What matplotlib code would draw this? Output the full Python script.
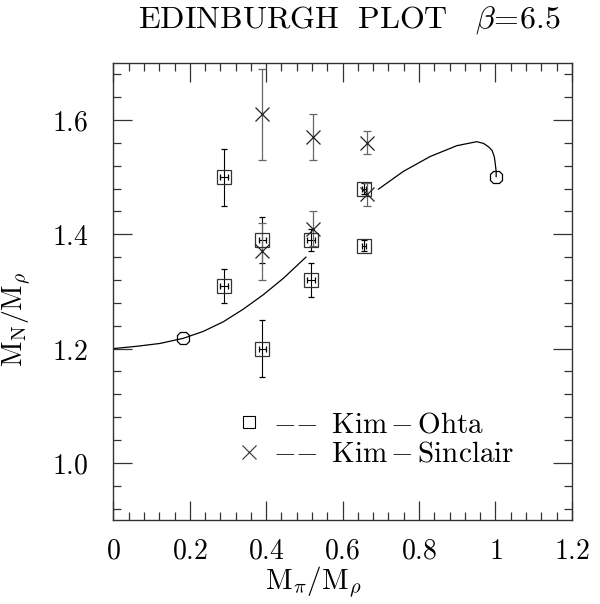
import matplotlib
matplotlib.use("Agg")
import matplotlib.pyplot as plt
from matplotlib.lines import Line2D
from matplotlib.ticker import MultipleLocator, FixedLocator, FixedFormatter

plt.rcParams['mathtext.fontset'] = 'cm'

# Kim-Ohta nucleon/rho ratios
ohta_x = [0.29, 0.29, 0.39, 0.39, 0.517, 0.517, 0.656, 0.656]
ohta_xerr = [0.01, 0.01, 0.01, 0.01, 0.01, 0.01, 0.006, 0.006]
ohta_y = [1.50, 1.31, 1.39, 1.20, 1.39, 1.32, 1.48, 1.38]
ohta_yerr = [0.05, 0.03, 0.04, 0.05, 0.02, 0.03, 0.01, 0.01]

# Kim-Sinclair nucleon/rho ratios
sinc_x = [0.388, 0.388, 0.522, 0.522, 0.663, 0.663]
sinc_y = [1.61, 1.37, 1.57, 1.41, 1.56, 1.47]
sinc_yerr = [0.08, 0.05, 0.04, 0.03, 0.02, 0.02]

# phenomenological curve, light and heavy branches
curve_lo_x = [0.0, 0.061, 0.122, 0.183, 0.235, 0.288, 0.340, 0.392, 0.445, 0.504]
curve_lo_y = [1.200, 1.204, 1.209, 1.218, 1.230, 1.247, 1.269, 1.294, 1.323, 1.360]
curve_hi_x = [0.694, 0.759, 0.829, 0.899, 0.951, 0.969, 0.982, 0.991, 0.997,
              0.999, 1.002, 1.002]
curve_hi_y = [1.479, 1.510, 1.536, 1.555, 1.562, 1.559, 1.553, 1.547, 1.536,
              1.527, 1.510, 1.501]

# physical point and heavy quark limit
ref_x = [0.183, 1.002]
ref_y = [1.218, 1.501]

xticks = [0, 0.2, 0.4, 0.6, 0.8, 1.0, 1.2]
xticklabels = ['0', '0.2', '0.4', '0.6', '0.8', '1', '1.2']
yticks = [1.0, 1.2, 1.4, 1.6]
yticklabels = ['1.0', '1.2', '1.4', '1.6']

fig = plt.figure(figsize=(6.0, 6.04), dpi=100)
ax = fig.add_axes([0.189, 0.139, 0.764, 0.757])

ax.plot(curve_lo_x, curve_lo_y, color='black', lw=0.9)
ax.plot(curve_hi_x, curve_hi_y, color='black', lw=0.9)
ax.plot(ref_x, ref_y, linestyle='none', marker='8', ms=10, mfc='none',
        mec='black', mew=0.9, zorder=4)

ax.errorbar(ohta_x, ohta_y, yerr=ohta_yerr, xerr=ohta_xerr, fmt='s', ms=9.5,
            mfc='none', mec='#333333', mew=0.9, ecolor='black', elinewidth=0.8,
            capsize=2.2, capthick=0.8)
ax.errorbar(sinc_x, sinc_y, yerr=sinc_yerr, fmt='x', ms=10, color='#222222',
            mew=0.9, ecolor='#666666', elinewidth=0.9, capsize=3, capthick=0.9)

ax.set_xlim(0, 1.2)
ax.set_ylim(0.9, 1.7)
ax.xaxis.set_major_locator(FixedLocator(xticks))
ax.xaxis.set_major_formatter(FixedFormatter(['$%s$' % s for s in xticklabels]))
ax.yaxis.set_major_locator(FixedLocator(yticks))
ax.yaxis.set_major_formatter(FixedFormatter(['$%s$' % s for s in yticklabels]))
ax.xaxis.set_minor_locator(MultipleLocator(0.04))
ax.yaxis.set_minor_locator(MultipleLocator(0.04))

ax.tick_params(which='both', direction='in', top=True, right=True,
               color='#333333', width=0.9)
ax.tick_params(which='major', length=14)
ax.tick_params(which='minor', length=5.5)
ax.tick_params(axis='x', which='major', pad=12, labelsize=20)
ax.tick_params(axis='y', which='major', pad=18, labelsize=20)
for sp in ax.spines.values():
    sp.set_linewidth(1.0)
    sp.set_color('#333333')

ax.set_xlabel(r'$\mathrm{M}_\pi/\mathrm{M}_\rho$', fontsize=21)
ax.set_ylabel(r'$\mathrm{M}_\mathrm{N}/\mathrm{M}_\rho$', fontsize=20)
ax.xaxis.set_label_coords(0.435, -0.098)
ax.yaxis.set_label_coords(-0.175, 0.44)

handles = [
    Line2D([], [], linestyle='none', marker='s', ms=9, mfc='none',
           mec='black', mew=0.8),
    Line2D([], [], linestyle='none', marker='x', ms=10, color='#333333',
           mew=0.8),
]
labels = [r'$-\!\!\!\;-\ \mathrm{Kim}\,{-}\,\mathrm{Ohta}$',
          r'$-\!\!\!\;-\ \mathrm{Kim}\,{-}\,\mathrm{Sinclair}$']
ax.legend(handles, labels, loc='upper left', bbox_to_anchor=(0.24, 0.272),
          frameon=False, fontsize=21, handlelength=0.75, handletextpad=0.45,
          labelspacing=0.05, borderpad=0)

fig.text(0.583, 0.954, r'$\mathrm{EDINBURGH\ \ PLOT}\quad\beta\!=\!6.5$',
         ha='center', va='baseline', fontsize=23)

fig.savefig('out.png', dpi=100)
